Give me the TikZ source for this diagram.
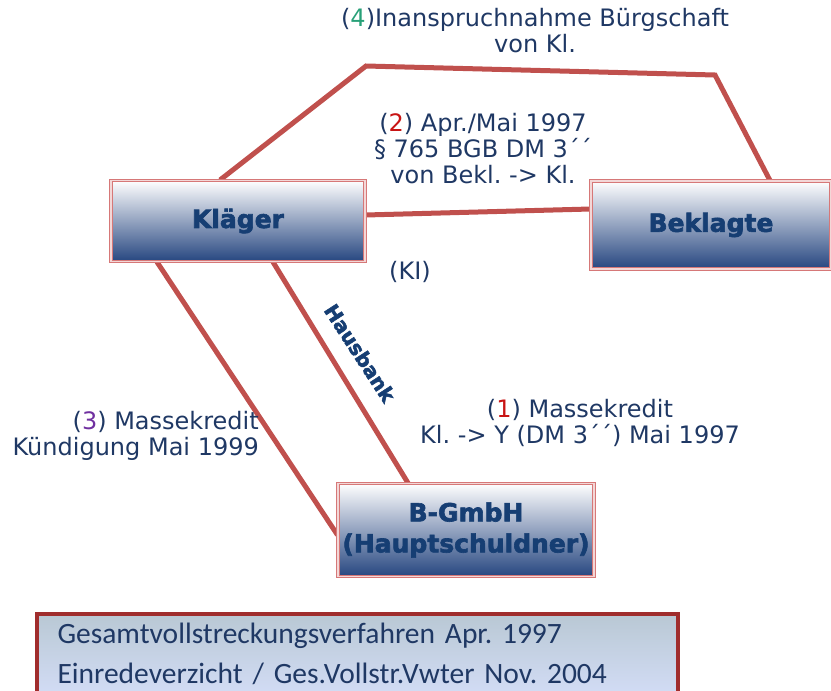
\documentclass[tikz,border=0pt]{standalone}
\usepackage{fontspec}
\setmainfont{DejaVu Sans}
\newfontfamily\calibrifont{Carlito}
\newfontfamily\heavyfont[FakeBold=2.5]{DejaVu Sans Bold}
\usetikzlibrary{backgrounds}
\definecolor{linered}{RGB}{192,80,77}
\definecolor{labelblue}{RGB}{31,56,100}
\definecolor{headblue}{RGB}{22,62,115}
\definecolor{shadeblue}{RGB}{38,70,128}
\definecolor{rimred}{RGB}{214,120,120}
\definecolor{inforim}{RGB}{160,45,45}
\definecolor{infotop}{RGB}{185,200,212}
\definecolor{infofill}{RGB}{210,220,245}
\definecolor{numgreen}{RGB}{40,160,120}
\definecolor{numred}{RGB}{200,20,20}
\definecolor{numpurple}{RGB}{112,48,160}
\frenchspacing

\begin{document}
\begin{tikzpicture}
  [x=1pt, y=-1pt,
  party/.style={shape=rectangle, draw=rimred, double=rimred!30, double distance=1.5pt,
         line width=1pt, top color=white, bottom color=shadeblue, text=headblue,
         font=\heavyfont\fontsize{25}{31}\selectfont, inner sep=0pt, align=center},
  remark/.style={text=labelblue, font=\fontsize{24}{26}\selectfont, inner sep=0pt, align=center},
  link/.style={draw=linered, line width=5pt}
  ]
  \useasboundingbox (0,0) rectangle (831,691);
 \path
   (238,221) node (klaeger)  [party, minimum width=254, minimum height=81] {Kläger}
   (711,225) node (beklagte) [party, minimum width=240, minimum height=88] {Beklagte}
   (466,530) node (gmbh)     [party, minimum width=256, minimum height=93] {B-GmbH\\(Hauptschuldner)}
   ;
  \coordinate (bend4l) at (366,66);
  \coordinate (bend4r) at (715,75);
   \begin{scope}[on background layer]
   \draw [link] ([xshift=-18]klaeger.north) -- (bend4l) -- (bend4r) -- ([xshift=59]beklagte.north);
   \draw [link] ([yshift=6]klaeger.east) -- ([yshift=16]beklagte.west);
   \draw [link] ([xshift=35]klaeger.south) -- ([xshift=-58]gmbh.north);
   \draw [link] ([xshift=-81]klaeger.south) -- ([yshift=-5]gmbh.west);
   \end{scope}
 \path
   (535,31)  node (claim4)  [remark] {(\textcolor{numgreen}{4})Inanspruchnahme Bürgschaft\\von Kl.}
   (483,149) node (claim2)  [remark] {(\textcolor{numred}{2}) Apr./Mai 1997\\§ 765 BGB DM 3´´\\von Bekl. -> Kl.}
   (410,272) node (kl)      [remark] {(KI)}
   (580,423) node (credit1) [remark] {(\textcolor{numred}{1}) Massekredit\\Kl. -> Y (DM 3´´) Mai 1997}
   (259,436) node (credit3) [remark, anchor=east, align=right] {(\textcolor{numpurple}{3}) Massekredit\\Kündigung Mai 1999}
   (360,353) node (hausbank) [rotate=-57, text=headblue, inner sep=0pt,
         font=\heavyfont\fontsize{20}{20}\selectfont] {Hausbank}
   ;
  \node (info) [draw=inforim, line width=4pt, top color=infotop, bottom color=infofill,
         minimum width=641, minimum height=80, text width=599pt, inner xsep=21pt, inner ysep=0pt,
         align=left, text=labelblue, font=\calibrifont\fontsize{29.5}{40}\selectfont]
         at (357,654) {Gesamtvollstreckungsverfahren Apr. 1997\\Einredeverzicht / Ges.Vollstr.Vwter Nov. 2004};

\end{tikzpicture}
\end{document}
